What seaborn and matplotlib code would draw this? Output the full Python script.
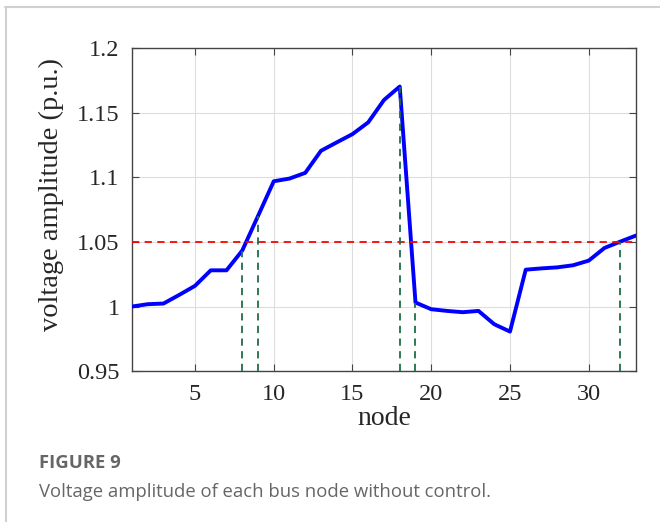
import numpy as np
import pandas as pd
import seaborn as sns
import matplotlib.pyplot as plt
from matplotlib.lines import Line2D

# bus voltages
nodes = list(range(1, 34))
voltage = [1.000, 1.0018, 1.0023, 1.009, 1.016, 1.028, 1.028, 1.0433, 1.070, 1.0969,
           1.099, 1.1034, 1.1205, 1.127, 1.1334, 1.1425, 1.1598, 1.1702, 1.0031, 0.9979,
           0.9966, 0.9956, 0.9966, 0.9863, 0.9806, 1.0285, 1.0295, 1.0303, 1.0319, 1.0355,
           1.0453, 1.0502, 1.0549]
limit = 1.05
marked_nodes = [8, 9, 18, 19, 32]
x_ticks = [5, 10, 15, 20, 25, 30]
y_ticks = [0.95, 1.0, 1.05, 1.1, 1.15, 1.2]
y_tick_labels = ["0.95", "1", "1.05", "1.1", "1.15", "1.2"]

df = pd.DataFrame({"node": nodes, "voltage": voltage})

sns.set_style("ticks")
plt.rcParams["font.family"] = ["Liberation Serif", "DejaVu Serif"]

fig = plt.figure(figsize=(6.6, 5.22), dpi=100)
ax = fig.add_axes([0.2, 0.289, 0.7636, 0.619])

ax.grid(True, color="#dddddd", linewidth=0.8)
ax.set_axisbelow(True)

sns.lineplot(data=df, x="node", y="voltage", ax=ax, color="#0000ff", linewidth=2.8, zorder=3)

ax.axhline(limit, color="#ff0000", linestyle=(0, (4, 3)), linewidth=1.3, zorder=4)
for n in marked_nodes:
    ax.vlines(n, 0.95, voltage[n - 1], colors="#1e6e45", linestyles=(0, (4, 3)),
              linewidth=1.3, zorder=4)

ax.set_xlim(1, 33)
ax.set_ylim(0.95, 1.2)
ax.set_xticks(x_ticks)
ax.set_yticks(y_ticks)
ax.set_yticklabels(y_tick_labels)
ax.tick_params(direction="in", top=True, right=True, labelsize=17.5, length=5,
               color="#444444", pad=9)
for s in ax.spines.values():
    s.set_color("#444444")
    s.set_linewidth(1.0)

ax.set_xlabel("node", fontsize=20, labelpad=1)
ax.set_ylabel("voltage amplitude (p.u.)", fontsize=20.5)
ax.yaxis.set_label_coords(-0.135, 0.546)

# caption and frame of the figure panel
fig.add_artist(Line2D([0.008, 1.0], [0.987, 0.987], color="#d0d0d0", linewidth=1.5))
fig.add_artist(Line2D([0.009, 0.009], [0.0, 0.987], color="#d0d0d0", linewidth=1.5))
fig.text(0.059, 0.103, "FIGURE 9", fontsize=13.3, fontweight="bold", color="#666666",
         family=["Open Sans", "DejaVu Sans"])
fig.text(0.059, 0.047, "Voltage amplitude of each bus node without control.", fontsize=13.3,
         color="#666666", family=["Open Sans", "DejaVu Sans"])

fig.savefig("out.png", dpi=100)
